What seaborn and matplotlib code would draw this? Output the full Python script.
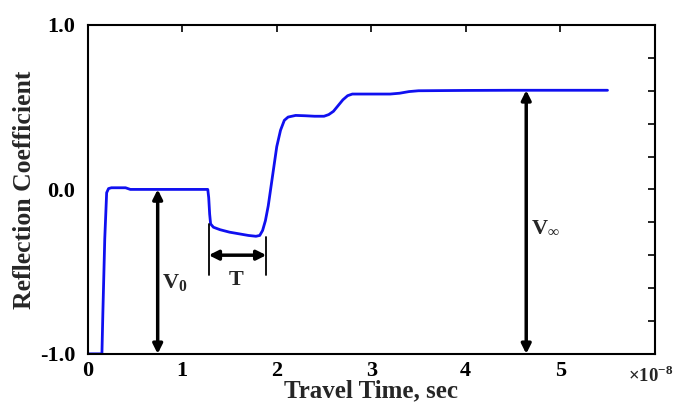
import matplotlib
matplotlib.use("Agg")
import matplotlib.pyplot as plt
import seaborn as sns
import numpy as np
import pandas as pd

# Travel time (units of 1e-8 s) and reflection coefficient
time = [0.0, 0.15, 0.16, 0.18, 0.20, 0.22, 0.25, 0.30, 0.40, 0.45, 0.8, 1.0, 1.27,
        1.28, 1.29, 1.30, 1.33, 1.40, 1.50, 1.60, 1.70, 1.78, 1.82, 1.85, 1.88,
        1.91, 1.94, 1.97, 2.00, 2.04, 2.08, 2.12, 2.20, 2.30, 2.40, 2.50, 2.55,
        2.60, 2.65, 2.70, 2.75, 2.80, 3.00, 3.20, 3.30, 3.40, 3.50, 4.00, 4.50,
        5.00, 5.50]
refl = [-1.0, -1.0, -0.75, -0.30, -0.02, 0.005, 0.01, 0.01, 0.01, 0.0, 0.0, 0.0, 0.0,
        -0.05, -0.15, -0.21, -0.23, -0.245, -0.26, -0.27, -0.28, -0.285, -0.28, -0.25, -0.19,
        -0.10, 0.02, 0.14, 0.26, 0.36, 0.42, 0.44, 0.45, 0.448, 0.445, 0.445, 0.455,
        0.475, 0.51, 0.545, 0.57, 0.58, 0.58, 0.58, 0.585, 0.595, 0.60, 0.602, 0.603,
        0.603, 0.603]

x_ticks = [0, 1, 2, 3, 4, 5]
y_ticks = [-1.0, -0.8, -0.6, -0.4, -0.2, 0.0, 0.2, 0.4, 0.6, 0.8, 1.0]
y_labels = ["-1.0", "", "", "", "", "0.0", "", "", "", "", "1.0"]

df = pd.DataFrame({"time": time, "refl": refl})

sns.set_theme(style="white")
plt.rcParams["font.family"] = ["Liberation Serif", "DejaVu Serif"]
plt.rcParams["font.weight"] = "bold"
plt.rcParams["mathtext.fontset"] = "custom"
plt.rcParams["mathtext.rm"] = "Liberation Serif:bold"
plt.rcParams["mathtext.bf"] = "Liberation Serif:bold"

fig = plt.figure(figsize=(6.75, 4.03), dpi=100)
ax = fig.add_axes([0.130, 0.122, 0.840, 0.816])

sns.lineplot(data=df, x="time", y="refl", ax=ax, color="#1010f0", linewidth=2.0)

ax.set_xlim(0, 6)
ax.set_ylim(-1.0, 1.0)
ax.set_xticks(x_ticks)
ax.set_xticklabels([str(t) for t in x_ticks], fontsize=16, fontweight="bold")
ax.set_yticks(y_ticks)
ax.set_yticklabels(y_labels, fontsize=16, fontweight="bold")
ax.tick_params(direction="in", top=True, right=True, length=5, width=1.2, colors="black")
ax.tick_params(axis="x", pad=5)
ax.tick_params(axis="y", pad=9)
for s in ax.spines.values():
    s.set_visible(True)
    s.set_color("black")
    s.set_linewidth(1.5)

ax.set_xlabel("Travel Time, sec", fontsize=18, fontweight="bold", labelpad=-1)
ax.set_ylabel("Reflection Coefficient", fontsize=18.5, fontweight="bold", labelpad=3)

ax.text(0.952, -0.035, r"$\times$10$^{-8}$", transform=ax.transAxes, ha="left", va="top",
        fontsize=13.5)

arrow_kw = dict(arrowstyle="<|-|>", color="black", lw=2.5, mutation_scale=14,
                shrinkA=0, shrinkB=0)
# V0 arrow
ax.annotate("", xy=(0.74, 0.0), xytext=(0.74, -1.0), arrowprops=arrow_kw)
ax.text(0.92, -0.57, r"V$_0$", fontsize=16, ha="center", va="center")
# T markers
ax.plot([1.28, 1.28], [-0.21, -0.52], color="black", lw=1.3)
ax.plot([1.89, 1.89], [-0.29, -0.52], color="black", lw=1.3)
ax.annotate("", xy=(1.28, -0.40), xytext=(1.89, -0.40), arrowprops=arrow_kw)
ax.text(1.57, -0.55, "T", fontsize=16, ha="center", va="center")
# V_inf arrow
ax.annotate("", xy=(4.64, 0.603), xytext=(4.64, -1.0), arrowprops=arrow_kw)
ax.text(4.84, -0.23, r"V$_\infty$", fontsize=16, ha="center", va="center")

fig.savefig("out.png", dpi=100)
